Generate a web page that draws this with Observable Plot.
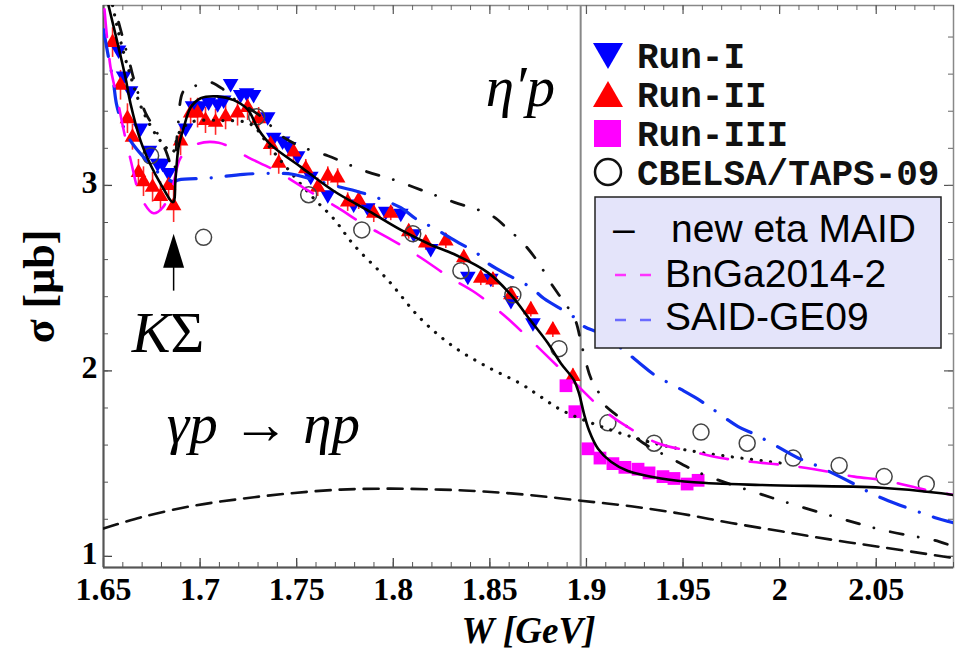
<!DOCTYPE html>
<html><head><meta charset="utf-8">
<script src="https://cdn.jsdelivr.net/npm/d3@7"></script>
<script src="https://cdn.jsdelivr.net/npm/@observablehq/plot@0.6"></script>
<style>body{margin:0;background:#fff}#chart{width:955px;height:654px;overflow:hidden}</style>
</head><body><div id="chart"></div>
<script>
// ---------- axis ticks ----------
const xTicks = [1.65,1.7,1.75,1.8,1.85,1.9,1.95,2,2.05];
const xTickLabels = ["1.65","1.7","1.75","1.8","1.85","1.9","1.95","2","2.05"];
const yTicks = [1,2,3];
const yTickLabels = ["1","2","3"];
const etaPrimeThreshold = 1.897;   // W of eta' p threshold
const kSigmaThreshold = 1.6863;    // W of K Sigma threshold

// ---------- data points [W (GeV), sigma (mub)] ----------
const runI = [[1.6578,3.73],[1.6604,3.59],[1.664,3.51],[1.6692,3.31],[1.6738,3.19],[1.678,3.12],[1.6806,3.12],[1.6837,3.07],
 [1.6925,3.31],[1.6961,3.43],[1.7003,3.43],[1.7044,3.45],[1.7091,3.44],[1.7122,3.46],[1.7158,3.55],[1.721,3.49],[1.7241,3.50],[1.7277,3.49],
 [1.735,3.37],[1.7381,3.26],[1.7427,3.24],[1.7459,3.21],[1.7505,3.16],[1.7573,3.05],[1.7661,2.95],[1.7795,2.90],[1.7868,2.88],[1.7961,2.86],
 [1.8039,2.85],[1.8106,2.74],[1.8194,2.66],[1.8386,2.51],[1.8505,2.50],[1.8609,2.38],[1.8723,2.26]];
const runII = [[1.6547,3.77],[1.6588,3.54],[1.6624,3.36],[1.665,3.26],[1.6681,3.07],[1.6707,3.02],[1.6754,2.99],[1.6795,2.94],[1.6837,3.00],[1.6863,2.89],
 [1.6899,3.24],[1.6951,3.39],[1.6987,3.39],[1.7028,3.35],[1.708,3.34],[1.7132,3.37],[1.7194,3.39],[1.7246,3.42],[1.7303,3.36],[1.7365,3.22],
 [1.7407,3.12],[1.7484,3.18],[1.7547,3.09],[1.7609,2.99],[1.7661,3.05],[1.7712,3.04],[1.7764,2.91],[1.7821,2.92],[1.7899,2.85],[1.7987,2.85],
 [1.808,2.75],[1.8168,2.69],[1.8272,2.70],[1.8365,2.61],[1.8453,2.50],[1.8516,2.49],[1.8609,2.41],[1.8712,2.33],[1.8826,2.22],[1.893,1.97]];
const runIIerr = [0.08,0.08,0.08,0.07,0.07,0.08,0.08,0.08,0.08,0.09,
 0.08,0.08,0.08,0.07,0.07,0.07,0.07,0.07,0.06,0.06,
 0.06,0.05,0.05,0.05,0.05,0.05,0.05,0.05,0.05,0.04,
 0.04,0.04,0.04,0.04,0.04,0.04,0.04,0.04,0.04,0.04];
const runIII = [[1.8894,1.92],[1.894,1.78],[1.9008,1.58],[1.907,1.53],[1.9137,1.50],[1.9199,1.48],[1.9267,1.47],[1.9324,1.45],[1.9396,1.43],[1.9453,1.42],[1.9521,1.39],[1.9578,1.41]];
const cbelsa = [[1.6744,3.16],[1.7018,2.72],[1.7293,3.37],[1.7562,2.95],[1.7837,2.76],[1.8101,2.74],[1.835,2.54],[1.8619,2.41],[1.8858,2.12],
 [1.9111,1.72],[1.935,1.61],[1.9593,1.67],[1.9832,1.61],[2.007,1.53],[2.0308,1.49],[2.0541,1.43],[2.0759,1.39]];

// ---------- model curves ----------
const maid = [[1.6526,3.97],[1.6588,3.70],[1.6614,3.58],[1.664,3.44],[1.6692,3.24],[1.6744,3.11],[1.6795,3.01],[1.6860,2.91],[1.6873,3.04],[1.6889,3.21],
 [1.6915,3.31],[1.6951,3.42],[1.7003,3.47],[1.709,3.48],[1.7174,3.46],[1.7246,3.41],[1.7303,3.30],[1.7365,3.22],[1.7521,3.10],[1.7692,2.97],
 [1.7876,2.86],[1.8039,2.76],[1.8194,2.68],[1.8313,2.63],[1.849,2.53],[1.8609,2.41],[1.8712,2.27],[1.880,2.15],[1.8868,2.04],[1.8935,1.95],
 [1.8961,1.88],[1.8987,1.77],[1.9013,1.68],[1.906,1.58],[1.9127,1.51],[1.9215,1.46],[1.9386,1.42],[1.9557,1.40],[1.990,1.385],[2.0526,1.37],[2.0837,1.34],[2.0904,1.33]];
const bnga = [[1.6505,3.95],[1.6536,3.64],[1.6573,3.46],[1.6604,3.30],[1.664,3.14],[1.6692,2.94],[1.6759,2.85],[1.6806,2.88],[1.6858,3.0],[1.69,3.15],
 [1.6977,3.22],[1.7096,3.23],[1.7251,3.15],[1.7407,3.07],[1.7547,2.98],[1.7712,2.88],[1.7847,2.79],[1.8003,2.70],[1.8143,2.61],[1.8298,2.50],
 [1.8427,2.42],[1.8573,2.30],[1.8697,2.18],[1.8826,2.05],[1.8935,1.94],[1.9075,1.80],[1.9194,1.71],[1.937,1.61],[1.9526,1.57],[1.9697,1.53],
 [1.9852,1.51],[2.0044,1.49],[2.0179,1.47],[2.0386,1.43],[2.0541,1.41],[2.0749,1.36],[2.0904,1.33]];
const said = [[1.65,3.84],[1.6526,3.69],[1.6552,3.55],[1.6567,3.44],[1.6598,3.33],[1.664,3.24],[1.6718,3.14],[1.6795,3.06],[1.6863,3.02],[1.6889,3.03],
 [1.7054,3.04],[1.7225,3.06],[1.7402,3.065],[1.7479,3.06],[1.7588,3.03],[1.7728,2.99],[1.7806,2.97],[1.7899,2.94],[1.8039,2.88],[1.8117,2.82],
 [1.821,2.77],[1.8339,2.69],[1.8427,2.64],[1.849,2.58],[1.8624,2.50],[1.8712,2.45],[1.878,2.39],[1.8935,2.29],[1.8987,2.24],[1.9075,2.20],
 [1.9194,2.11],[1.9277,2.04],[1.935,1.98],[1.949,1.90],[1.9573,1.85],[1.9645,1.80],[1.9785,1.70],[1.9868,1.66],[1.994,1.62],[2.0096,1.53],
 [2.0168,1.50],[2.0251,1.46],[2.0386,1.39],[2.0474,1.34],[2.0562,1.30],[2.0718,1.24],[2.0801,1.21],[2.0904,1.18]];
const dashDot = [[1.6578,3.88],[1.6635,3.66],[1.6666,3.54],[1.6718,3.39],[1.6769,3.30],[1.6821,3.19],[1.6863,3.08],[1.6883,3.29],[1.6915,3.51],[1.6961,3.53],
 [1.7039,3.56],[1.7117,3.52],[1.7158,3.48],[1.7262,3.41],[1.7329,3.36],[1.7417,3.27],[1.7521,3.21],[1.7661,3.16],[1.7847,3.08],[1.8003,3.03],
 [1.8158,2.97],[1.8313,2.91],[1.8505,2.84],[1.8598,2.76],[1.8671,2.69],[1.8754,2.58],[1.8811,2.48],[1.8878,2.38],[1.894,2.28],[1.8977,2.13],
 [1.9023,1.96],[1.906,1.89],[1.9091,1.82],[1.9179,1.74],[1.9256,1.64],[1.9453,1.52],[1.9609,1.44],[1.9889,1.34],[2.0039,1.29],[2.0329,1.20],
 [2.0541,1.14],[2.0826,1.08],[2.0904,1.05]];
const dotted = [[1.6547,3.97],[1.6588,3.78],[1.664,3.59],[1.6692,3.43],[1.6744,3.32],[1.6795,3.24],[1.6858,3.18],[1.6889,3.28],[1.6951,3.34],[1.7106,3.35],
 [1.7262,3.33],[1.7365,3.20],[1.7469,3.07],[1.7588,2.93],[1.7692,2.82],[1.7795,2.68],[1.7972,2.49],[1.8143,2.28],[1.8313,2.13],[1.849,2.02],
 [1.8661,1.93],[1.8764,1.86],[1.8868,1.79],[1.9075,1.70],[1.935,1.61],[1.9593,1.56],[2.003,1.50]];
const dashed = [[1.65,1.15],[1.6692,1.21],[1.6951,1.27],[1.721,1.31],[1.7469,1.34],[1.7728,1.36],[1.7987,1.365],[1.8246,1.36],[1.8469,1.35],[1.8712,1.33],
 [1.8972,1.30],[1.9231,1.27],[1.949,1.23],[1.9749,1.18],[2.0008,1.135],[2.0267,1.09],[2.0526,1.05],[2.0904,0.99]];

// ---------- texts ----------
const dataLegend = ["Run-I","Run-II","Run-III","CBELSA/TAPS-09"];
const modelLegend = ["new eta MAID","BnGa2014-2","SAID-GE09"];
const annotations = [
  {W:1.8658, s:3.43, text:"η′p"},
  {W:1.7328, s:1.61, text:"γp → ηp"}
];
const kLabel = {W:1.6847, s:2.10, text:"K"};
const sigmaLabel = {W:1.6847, s:2.10, text:"Σ"};
const arrowKS = {W:kSigmaThreshold, tip:2.74, base:2.57, tail:2.43};

// ---------- layout ----------
const WIDTH=955, HEIGHT=654, ML=103, MR=2, MT=5, MB=87;
const innerW = WIDTH-ML-MR, innerH = HEIGHT-MT-MB;
const obj = a => a.map(([W,s]) => ({W, s}));
const xMinor = d3.range(1.65, 2.0951, 0.01);
const yMinor = d3.range(1.0, 3.9, 0.2);

const arrowHead = {draw(ctx){ctx.moveTo(0,0);ctx.lineTo(10.5,34);ctx.lineTo(-10.5,34);ctx.closePath();}};

function legendMark() {
  const g = d3.create("svg:g").attr("text-anchor","start");
  const sx = 608;
  const rowsY = [57, 95, 133, 172];
  const base = [68, 107, 146, 185];
  g.append("path").attr("d", `M${sx-15},${rowsY[0]-14}L${sx+15},${rowsY[0]-14}L${sx},${rowsY[0]+12}Z`).attr("fill","#0000ff");
  g.append("path").attr("d", `M${sx},${rowsY[1]-14}L${sx+15},${rowsY[1]+12}L${sx-15},${rowsY[1]+12}Z`).attr("fill","#ff0000");
  g.append("rect").attr("x", sx-14).attr("y", rowsY[2]-13).attr("width",27).attr("height",27).attr("fill","#ff00ff");
  g.append("circle").attr("cx", sx).attr("cy", rowsY[3]).attr("r",13).attr("fill","none").attr("stroke","#111").attr("stroke-width",2.5);
  dataLegend.forEach((t,i) => {
    g.append("text").attr("x",637).attr("y",base[i]).attr("text-anchor","start").text(t)
      .attr("font-family","'Liberation Mono', monospace").attr("font-weight","bold").attr("font-size",36).attr("fill","#111");
  });
  g.append("rect").attr("x",595).attr("y",197).attr("width",346).attr("height",151)
    .attr("fill","#e4e4fa").attr("stroke","#222").attr("stroke-width",1.5);
  const mb = [242, 287, 330];
  g.append("text").attr("x",613).attr("y",mb[0]).attr("text-anchor","start").text("–")
    .attr("font-family","'Liberation Sans', Arial, sans-serif").attr("font-size",39).attr("fill","#000");
  [["#ff33ff",275],["#6a6aff",320]].forEach(([c,y]) => {
    g.append("line").attr("x1",615).attr("x2",626).attr("y1",y).attr("y2",y).attr("stroke",c).attr("stroke-width",2.5);
    g.append("line").attr("x1",640).attr("x2",651).attr("y1",y).attr("y2",y).attr("stroke",c).attr("stroke-width",2.5);
  });
  const mx = [671, 665, 665];
  modelLegend.forEach((t,i) => {
    g.append("text").attr("x",mx[i]).attr("y",mb[i]).attr("text-anchor","start").text(t)
      .attr("font-family","'Liberation Sans', Arial, sans-serif").attr("font-size",39).attr("fill","#000");
  });
  return g.node();
}

const serif = "'Liberation Serif', 'Times New Roman', serif";
const lineOpts = {x:"W", y:"s", curve:"catmull-rom", clip:true};

const chart = Plot.plot({
  width: WIDTH, height: HEIGHT,
  marginLeft: ML, marginRight: MR, marginTop: MT, marginBottom: MB,
  x: {domain:[1.65, 2.09]},
  y: {domain:[0.94, 3.97]},
  style: {fontFamily: serif, color:"#000", background:"#fff", overflow:"visible"},
  marks: [
    Plot.frame({stroke:"#888", strokeWidth:1.5}),
    Plot.ruleX(xTicks, {x:d=>d, insetTop: innerH-9, stroke:"#444", strokeWidth:1.3}),
    Plot.ruleX(xMinor, {x:d=>d, insetTop: innerH-5, stroke:"#555", strokeWidth:1}),
    Plot.ruleX(xTicks, {x:d=>d, insetBottom: innerH-9, stroke:"#555", strokeWidth:1.2}),
    Plot.ruleX(xMinor, {x:d=>d, insetBottom: innerH-5, stroke:"#666", strokeWidth:1}),
    Plot.ruleY(yTicks, {y:d=>d, insetRight: innerW-9, stroke:"#444", strokeWidth:1.3}),
    Plot.ruleY(yMinor, {y:d=>d, insetRight: innerW-5, stroke:"#555", strokeWidth:1}),
    Plot.ruleY(yTicks, {y:d=>d, insetLeft: innerW-9, stroke:"#555", strokeWidth:1.2}),
    Plot.ruleY(yMinor, {y:d=>d, insetLeft: innerW-5, stroke:"#666", strokeWidth:1}),
    Plot.ruleY([0.94], {stroke:"#555", strokeWidth:2}),
    Plot.ruleX([1.65], {stroke:"#555", strokeWidth:2}),
    Plot.axisX(xTicks, {anchor:"bottom", tickSize:0, tickPadding:10, label:null,
      tickFormat: d => xTickLabels[xTicks.indexOf(d)], fontSize:32, fontWeight:"bold", fontFamily:serif}),
    Plot.axisY(yTicks, {anchor:"left", tickSize:0, tickPadding:6, dy:-3, label:null,
      tickFormat: d => yTickLabels[yTicks.indexOf(d)], fontSize:32, fontWeight:"bold", fontFamily:serif}),
    Plot.text(["W [GeV]"], {frameAnchor:"bottom", dy:64, textAnchor:"middle", lineAnchor:"middle", fontSize:37, fontWeight:"bold", fontStyle:"italic", fontFamily:serif}),
    Plot.text(["σ [μb]"], {frameAnchor:"left", dx:-64, rotate:-90, textAnchor:"middle", lineAnchor:"middle", fontSize:44, fontWeight:"bold", fontFamily:serif}),
    Plot.ruleX([etaPrimeThreshold], {stroke:"#888", strokeWidth:2}),
    // data
    Plot.ruleX(obj(runII).map((d,i)=>({...d, e:runIIerr[i]})), {x:"W", y1:d=>d.s-d.e, y2:d=>d.s+d.e, stroke:"#ff2a2a", strokeWidth:1.6}),
    Plot.dot(obj(runI), {x:"W", y:"s", symbol:"triangle", rotate:180, r:5.8, fill:"#0000ff", stroke:"none"}),
    Plot.dot(obj(runII), {x:"W", y:"s", symbol:"triangle", r:5.8, fill:"#ff0000", stroke:"none"}),
    Plot.dot(obj(runIII), {x:"W", y:"s", symbol:"square", r:7.2, fill:"#ff00ff", stroke:"none"}),
    Plot.dot(obj(cbelsa), {x:"W", y:"s", r:8, fill:"none", stroke:"#444", strokeWidth:1.5}),
    // models
    Plot.line(obj(dashed), {...lineOpts, stroke:"#111", strokeWidth:2.6, strokeDasharray:"15,9"}),
    Plot.line(obj(dotted), {...lineOpts, stroke:"#111", strokeWidth:3.2, strokeDasharray:"0.1,9.5", strokeLinecap:"round"}),
    Plot.line(obj(dashDot), {...lineOpts, stroke:"#111", strokeWidth:2.8, strokeDasharray:"13,15,0.1,17", strokeLinecap:"round"}),
    Plot.line(obj(said), {...lineOpts, stroke:"#1030f0", strokeWidth:3.2, strokeDasharray:"27,15,0.1,15", strokeLinecap:"round"}),
    Plot.line(obj(bnga), {...lineOpts, stroke:"#ff00ff", strokeWidth:2.6, strokeDasharray:"28,22"}),
    Plot.line(obj(maid), {...lineOpts, stroke:"#000", strokeWidth:2.6}),
    // K Sigma arrow
    Plot.ruleX([arrowKS], {x:"W", y1:"tail", y2:"base", stroke:"#000", strokeWidth:1.5}),
    Plot.dot([arrowKS], {x:"W", y:"tip", symbol:arrowHead, fill:"#000", stroke:"none"}),
    // annotations
    Plot.text(annotations, {x:"W", y:"s", text:"text", textAnchor:"middle", lineAnchor:"bottom", fontSize:57, fontStyle:"italic", fontFamily:serif, fill:"#000"}),
    Plot.text([kLabel], {x:"W", y:"s", text:"text", textAnchor:"end", lineAnchor:"bottom", fontSize:58, fontStyle:"italic", fontFamily:serif, fill:"#000"}),
    Plot.text([sigmaLabel], {x:"W", y:"s", text:"text", textAnchor:"start", lineAnchor:"bottom", fontSize:58, fontFamily:serif, fill:"#000"}),
    legendMark
  ]
});
document.getElementById("chart").appendChild(chart);
</script>
</body></html>
